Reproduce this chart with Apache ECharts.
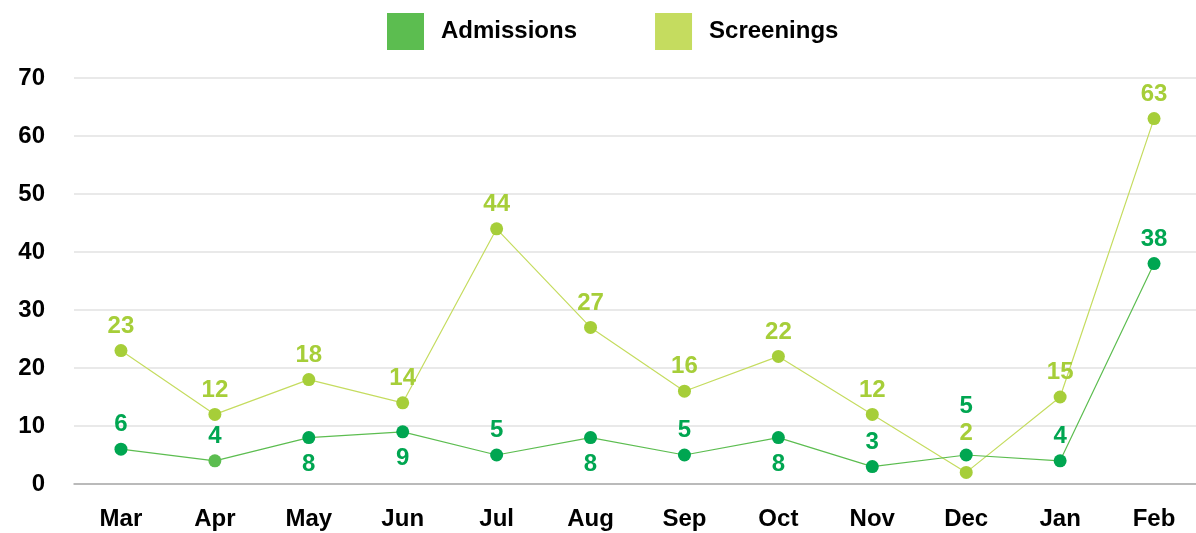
<!DOCTYPE html>
<html>
<head>
<meta charset="utf-8">
<script src="https://cdn.jsdelivr.net/npm/echarts@6/dist/echarts.min.js"></script>
<style>
  html, body { margin: 0; padding: 0; background: #fff; }
  #chart { width: 1196px; height: 533px; }
</style>
</head>
<body>
<div id="chart"></div>
<script>
const months = ['Mar', 'Apr', 'May', 'Jun', 'Jul', 'Aug', 'Sep', 'Oct', 'Nov', 'Dec', 'Jan', 'Feb']
const admissions = [6, 4, 8, 9, 5, 8, 5, 8, 3, 5, 4, 38]
const screenings = [23, 12, 18, 14, 44, 27, 16, 22, 12, 2, 15, 63]
const yTicks = [0, 10, 20, 30, 40, 50, 60, 70]

const font = '"Liberation Sans", Arial, sans-serif'
// months where the admissions label sits under the point
const belowMonths = ['May', 'Jun', 'Aug', 'Oct']

const admissionsData = admissions.map(function (v, i) {
  const item = { value: v, label: {} }
  if (belowMonths.indexOf(months[i]) >= 0) {
    item.label.position = 'bottom'
    item.label.distance = 8
  }
  if (months[i] === 'Dec') item.label.distance = 30
  if (months[i] === 'Apr') item.itemStyle = { color: '#5cbd50' }
  return item
})

const screeningsData = screenings.map(function (v, i) {
  const item = { value: v }
  // Dec label is pushed up, clear of the lines
  if (months[i] === 'Dec') item.label = { distance: 21 }
  return item
})

const chart = echarts.init(document.getElementById('chart'))
chart.setOption({
  animation: false,
  textStyle: { fontFamily: font },
  legend: {
    top: 8,
    left: 382,
    itemWidth: 37,
    itemHeight: 37,
    itemGap: 78,
    icon: 'rect',
    textStyle: { fontSize: 24, fontWeight: 'bold', color: '#000', fontFamily: font, padding: [0, 0, 0, 12] },
    data: [
      { name: 'Admissions', itemStyle: { color: '#5cbd50' } },
      { name: 'Screenings', itemStyle: { color: '#c5dc5f' } }
    ]
  },
  grid: { left: 74, right: -5, top: 78, bottom: 49, outerBoundsMode: 'none', containLabel: false },
  xAxis: {
    type: 'category',
    data: months,
    boundaryGap: true,
    axisLine: { lineStyle: { color: '#aaaaaa', width: 1.5 } },
    axisTick: { show: false },
    axisLabel: { color: '#000', fontSize: 24, fontWeight: 'bold', margin: 23, fontFamily: font }
  },
  yAxis: {
    type: 'value',
    min: yTicks[0],
    max: yTicks[yTicks.length - 1],
    interval: 10,
    axisLine: { show: false },
    axisTick: { show: false },
    splitLine: { lineStyle: { color: '#e2e2e2', width: 1.5 } },
    axisLabel: { color: '#000', fontSize: 24, fontWeight: 'bold', margin: 29, fontFamily: font }
  },
  series: [
    {
      name: 'Admissions',
      type: 'line',
      data: admissionsData,
      symbol: 'circle',
      symbolSize: 13,
      z: 3,
      color: '#5cbd50',
      itemStyle: { color: '#00a651' },
      lineStyle: { color: '#5cbd50', width: 1.2 },
      label: {
        show: true,
        position: 'top',
        distance: 6,
        color: '#00a651',
        fontSize: 24,
        fontWeight: 'bold',
        fontFamily: font
      }
    },
    {
      name: 'Screenings',
      type: 'line',
      data: screeningsData,
      symbol: 'circle',
      symbolSize: 13,
      z: 2,
      color: '#c5dc5f',
      itemStyle: { color: '#a6ce39' },
      lineStyle: { color: '#c5dc5f', width: 1.2 },
      label: {
        show: true,
        position: 'top',
        distance: 6,
        color: '#a6ce39',
        fontSize: 24,
        fontWeight: 'bold',
        fontFamily: font
      }
    }
  ]
})
</script>
</body>
</html>
